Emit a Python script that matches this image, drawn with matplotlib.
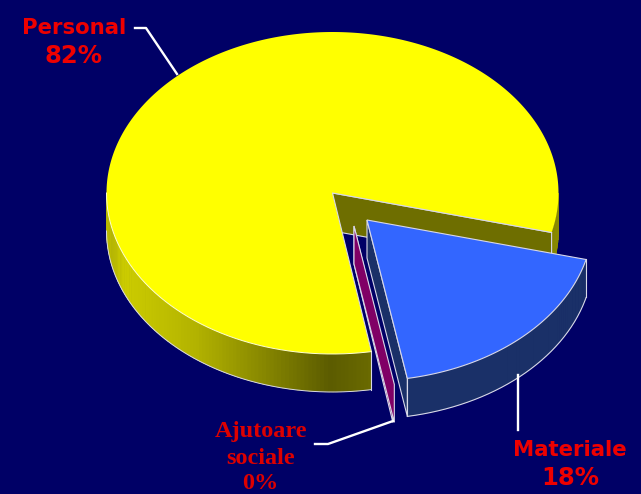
import numpy as np
import matplotlib
matplotlib.use('Agg')
import matplotlib.pyplot as plt

# chart values (percent, the small one shows as 0%)
slice_names = ['Personal', 'Ajutoare\nsociale', 'Materiale']
slice_values = [81.7, 0.1, 18.2]
slice_pct = ['82%', '0%', '18%']

BG = '#000066'
EDGE = '#d8d8e8'
TOP_COLORS = ['#ffff00', '#800066', '#3366ff']
CUT_COLORS = ['#6e6e00', '#800066', '#1a3068']

# pie geometry in pixels
RX, RY = 226, 161
DEPTH = 38
START = -14.2
CENTERS = [(332.5, 193), (354, 226), (367, 220)]


def ellipse_pts(center, a0, a1):
    t = np.radians(np.linspace(a0, a1, max(int(abs(a1 - a0) * 2), 2)))
    return center[0] + RX * np.cos(t), center[1] - RY * np.sin(t)


def yellow_shade(ang):
    # brightness along the rim goes with the screen x
    a = ang % 360
    if a < 90:
        return 0.55
    x = CENTERS[0][0] + RX * np.cos(np.radians(a))
    return np.interp(x, [105, 125, 195, 262, 328, 372], [0.72, 0.80, 0.70, 0.53, 0.36, 0.42])


def draw_rim(ax, center, a0, a1, shade):
    steps = np.arange(a0, a1, 1.0)
    for s in steps:
        x, y = ellipse_pts(center, s, min(s + 1.3, a1))
        ax.fill(np.r_[x, x[::-1]], np.r_[y, y[::-1] + DEPTH], color=shade(s), lw=0.3, zorder=2)


def draw_wall(ax, c, a, color, z):
    px, py = ellipse_pts(c, a, a + 0.01)
    ax.fill([c[0], px[0], px[0], c[0]], [c[1], py[0], py[0] + DEPTH, c[1] + DEPTH],
            facecolor=color, edgecolor=EDGE, lw=0.8, zorder=z)


fig = plt.figure(figsize=(6.41, 4.94), dpi=100, facecolor=BG)
ax = fig.add_axes([0, 0, 1, 1])
ax.set_xlim(0, 641)
ax.set_ylim(494, 0)
ax.axis('off')

spans = np.array(slice_values) / sum(slice_values) * 360
a_start = START
angles = []
for sp in spans:
    angles.append((a_start, a_start + sp))
    a_start += sp

# Personal
a0, a1 = angles[0]
c = CENTERS[0]
draw_rim(ax, c, 180, a1, lambda s: (yellow_shade(s), yellow_shade(s), 0))
draw_rim(ax, c, a0, 0, lambda s: (0.55, 0.55, 0))
draw_wall(ax, c, a0, CUT_COLORS[0], 3)
ex, ey = ellipse_pts(c, a0, a1)
ax.fill(np.r_[c[0], ex], np.r_[c[1], ey], facecolor=TOP_COLORS[0], edgecolor='none', zorder=4)
ax.plot([ex[-1], c[0], ex[0]], [ey[-1], c[1], ey[0]], color=EDGE, lw=0.8, zorder=5)
ax.plot([ex[-1], ex[-1]], [ey[-1], ey[-1] + DEPTH], color=EDGE, lw=0.8, zorder=5)
rx, ry = ellipse_pts(c, 180, a1)
ax.plot(rx, ry, color='#ffffd0', lw=0.7, zorder=5)
ax.plot(rx, ry + DEPTH, color=EDGE, lw=0.7, zorder=5)

# Ajutoare sociale, nearly no angle so only its wall shows
a0, a1 = angles[1]
c = CENTERS[1]
draw_wall(ax, c, a0, CUT_COLORS[1], 6)
draw_wall(ax, c, a1, CUT_COLORS[1], 6)

# Materiale
a0, a1 = angles[2]
c = CENTERS[2]
draw_rim(ax, c, a0, 360 + START, lambda s: CUT_COLORS[2])
draw_wall(ax, c, a0, CUT_COLORS[2], 8)
ex, ey = ellipse_pts(c, a0, a1)
ax.fill(np.r_[c[0], ex], np.r_[c[1], ey], facecolor=TOP_COLORS[2], edgecolor=EDGE, lw=0.8, zorder=9)
ax.plot(ex, ey + DEPTH, color=EDGE, lw=0.8, zorder=9)
ax.plot([ex[0], ex[0]], [ey[0], ey[0] + DEPTH], color=EDGE, lw=0.8, zorder=9)
ax.plot([ex[-1], ex[-1]], [ey[-1], ey[-1] + DEPTH], color=EDGE, lw=0.8, zorder=9)

# leader lines
ax.plot([135, 146, 177], [28, 28, 74], color='white', lw=1.7, zorder=10)
ax.plot([315, 328, 393], [444, 444, 421], color='white', lw=1.7, zorder=10)
ax.plot([518, 518], [375, 430], color='white', lw=1.7, zorder=10)

# labels
sans = dict(color='#ee0000', family='DejaVu Sans', weight='bold', ha='center', va='center', zorder=11)
ax.text(74, 28, slice_names[0], fontsize=15.3, **sans)
ax.text(73, 56, slice_pct[0], fontsize=17.5, **sans)
ax.text(261, 445, slice_names[1], color='#dd0000', family='Liberation Serif', weight='bold',
        fontsize=17.5, ha='center', va='center', linespacing=1.42, zorder=11)
ax.text(260, 483, slice_pct[1], color='#dd0000', family='Liberation Serif', weight='bold',
        fontsize=17.5, ha='center', va='center', zorder=11)
ax.text(570, 450, slice_names[2], fontsize=15.3, **sans)
ax.text(570, 478, slice_pct[2], fontsize=17.5, **sans)

fig.savefig('out.png', dpi=100, facecolor=BG)
